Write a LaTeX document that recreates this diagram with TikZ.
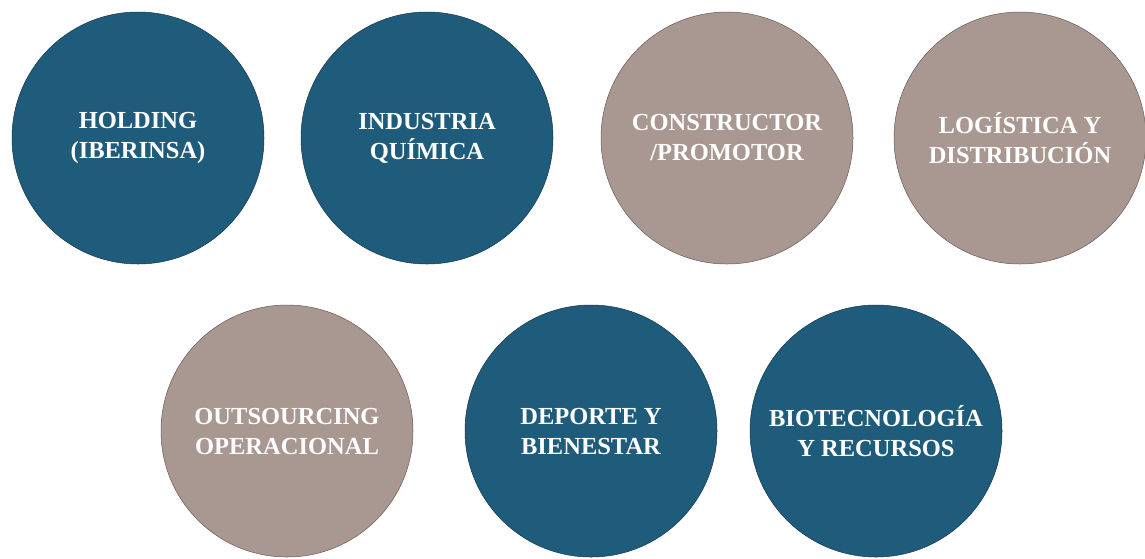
\documentclass[tikz,border=0pt]{standalone}
\usepackage{fontspec}
\setmainfont{Liberation Serif}
\definecolor{bluec}{HTML}{1F5B7B}
\definecolor{greyc}{HTML}{A99791}
\tikzset{
  bubble/.style={circle, minimum size=252pt, inner sep=0pt, line width=0.5pt,
    text=white, font=\bfseries\fontsize{24.5}{30}\selectfont, align=center},
  bluebubble/.style={bubble, fill=bluec, draw=bluec!60!black},
  greybubble/.style={bubble, fill=greyc, draw=greyc!60!black}
}
\begin{document}
\begin{tikzpicture}[x=1pt,y=-1pt]
\useasboundingbox (0,0) rectangle (1145,558);
\fill[white] (0,0) rectangle (1145,558);
\node[bluebubble] (holding) at (138,138) {HOLDING\\(IBERINSA)};
\node[bluebubble] (quimica) at (427,138) {INDUSTRIA\\QUÍMICA};
\node[greybubble] (constructor) at (727,138) {CONSTRUCTOR\\/PROMOTOR};
\node[greybubble] (logistica) at (1020,138) {LOGÍSTICA Y\\DISTRIBUCIÓN};
\node[greybubble] (outsourcing) at (287,431) {OUTSOURCING\\OPERACIONAL};
\node[bluebubble] (deporte) at (591,431) {DEPORTE Y\\BIENESTAR};
\node[bluebubble] (biotec) at (876,431) {BIOTECNOLOGÍA\\Y RECURSOS};
\end{tikzpicture}
\end{document}
